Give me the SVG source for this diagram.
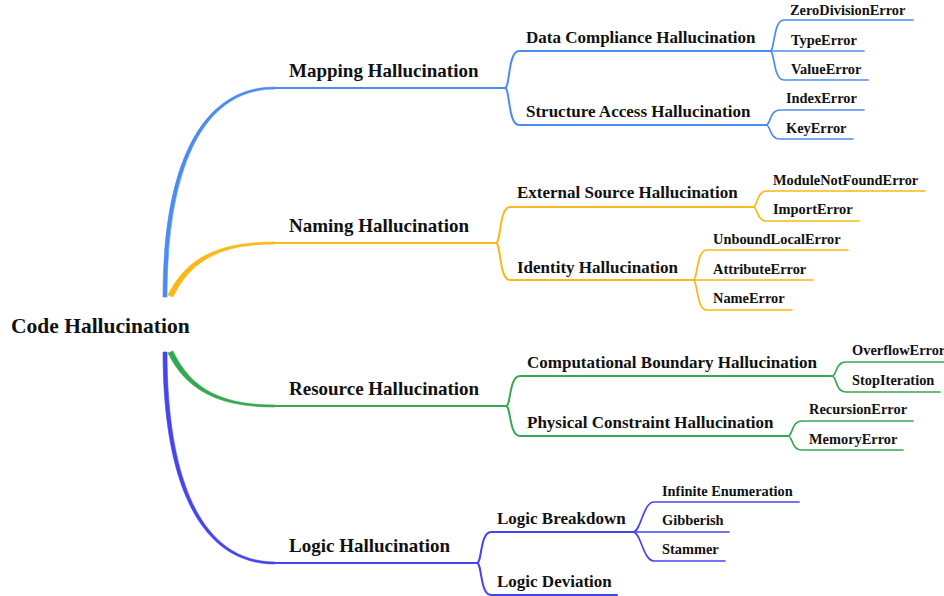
<svg xmlns="http://www.w3.org/2000/svg" width="944" height="596" viewBox="0 0 944 596">
<style>
text{font-family:"Liberation Serif","Times New Roman",serif;font-weight:bold;fill:#111}
.root{font-size:21.5px}
.l1{font-size:19px}
.l2{font-size:17px}
.l3{font-size:14.4px}
.ln{fill:none;stroke-linecap:round}
.w2{stroke-width:2}
.w3{stroke-width:1.7}
.blue{stroke:#4a8cf0}
.yel{stroke:#f9b916}
.grn{stroke:#35a852}
.pur{stroke:#4545f0}
.fblue{fill:#4a8cf0;stroke:#4a8cf0;stroke-width:0.6}
.fyel{fill:#f9b916;stroke:#f9b916;stroke-width:0.6}
.fgrn{fill:#35a852;stroke:#35a852;stroke-width:0.6}
.fpur{fill:#4545f0;stroke:#4545f0;stroke-width:0.6}
</style>
<rect width="944" height="596" fill="#ffffff"/>
<g id="connectors">
  <!-- main branches -->
  <path class="fblue" d="M163,297 C163,169 199,87 275,87 L275,89 C201,89 167,171 167,297 Z"/>
  <path class="ln w2 blue" d="M275,88 L505,88"/>
  <path class="fyel" d="M168,295 C188,254 224,242 275,242 L275,244 C226,244 192,257 173,297 Z"/>
  <path class="ln w2 yel" d="M275,243 L496,243"/>
  <path class="fgrn" d="M168,353 C188,394 224,407 275,407 L275,405 C226,405 192,392 173,351 Z"/>
  <path class="ln w2 grn" d="M275,406 L506,406"/>
  <path class="fpur" d="M163,352 C163,481 199,564 275,564 L275,562 C201,562 167,479 167,352 Z"/>
  <path class="ln w2 pur" d="M275,563 L477,563"/>
  <!-- mapping -->
  <path class="ln w2 blue" d="M505,88 C510,88 508,51 519,51 L770,51"/>
  <path class="ln w2 blue" d="M505,88 C510,88 508,125 519,125 L766,125"/>
  <path class="ln w3 blue" d="M770,51 C775,51 773,20 784,20 L913,20"/>
  <path class="ln w3 blue" d="M770,51 L864,51"/>
  <path class="ln w3 blue" d="M770,51 C775,51 773,80 784,80 L868,80"/>
  <path class="ln w3 blue" d="M766,125 C771,125 769,110 780,110 L864,110"/>
  <path class="ln w3 blue" d="M766,125 C771,125 769,139 780,139 L853,139"/>
  <!-- naming -->
  <path class="ln w2 yel" d="M496,243 C501,243 499,207 510,207 L753,207"/>
  <path class="ln w2 yel" d="M496,243 C501,243 499,280 510,280 L693,280"/>
  <path class="ln w3 yel" d="M753,207 C758,207 756,191 767,191 L925,191"/>
  <path class="ln w3 yel" d="M753,207 C758,207 756,221 767,221 L859,221"/>
  <path class="ln w3 yel" d="M693,280 C698,280 696,250 707,250 L848,250"/>
  <path class="ln w3 yel" d="M693,280 L813,280"/>
  <path class="ln w3 yel" d="M693,280 C698,280 696,310 707,310 L792,310"/>
  <!-- resource -->
  <path class="ln w2 grn" d="M506,406 C511,406 509,376 520,376 L832,376"/>
  <path class="ln w2 grn" d="M506,406 C511,406 509,436 520,436 L788,436"/>
  <path class="ln w3 grn" d="M832,376 C837,376 835,362 846,362 L946,362"/>
  <path class="ln w3 grn" d="M832,376 C837,376 835,392 846,392 L940,392"/>
  <path class="ln w3 grn" d="M788,436 C793,436 791,421 802,421 L913,421"/>
  <path class="ln w3 grn" d="M788,436 C793,436 791,450 802,450 L903,450"/>
  <!-- logic -->
  <path class="ln w2 pur" d="M477,563 C482,563 480,532 491,532 L633,532"/>
  <path class="ln w2 pur" d="M477,563 C482,563 480,595 491,595 L617,595"/>
  <path class="ln w3 pur" d="M633,532 C641,532 643,502 654,502 L799,502"/>
  <path class="ln w3 pur" d="M633,532 L729,532"/>
  <path class="ln w3 pur" d="M633,532 C641,532 643,561 654,561 L725,561"/>
</g>
<g id="root"><text class="root" x="11" y="333">Code Hallucination</text></g>
<g id="mapping"><text class="l1" x="289" y="77">Mapping Hallucination</text></g>
<g id="naming"><text class="l1" x="289" y="232">Naming Hallucination</text></g>
<g id="resource"><text class="l1" x="289" y="395">Resource Hallucination</text></g>
<g id="logic"><text class="l1" x="289" y="552">Logic Hallucination</text></g>
<g id="data-compliance"><text class="l2" x="526" y="43">Data Compliance Hallucination</text></g>
<g id="structure-access"><text class="l2" x="526" y="117">Structure Access Hallucination</text></g>
<g id="external-source"><text class="l2" x="517" y="198">External Source Hallucination</text></g>
<g id="identity"><text class="l2" x="517" y="273">Identity Hallucination</text></g>
<g id="computational-boundary"><text class="l2" x="527" y="368">Computational Boundary Hallucination</text></g>
<g id="physical-constraint"><text class="l2" x="527" y="428">Physical Constraint Hallucination</text></g>
<g id="logic-breakdown"><text class="l2" x="497" y="524">Logic Breakdown</text></g>
<g id="logic-deviation"><text class="l2" x="497" y="587">Logic Deviation</text></g>
<g id="zerodivisionerror"><text class="l3" x="790" y="15">ZeroDivisionError</text></g>
<g id="typeerror"><text class="l3" x="791" y="45">TypeError</text></g>
<g id="valueerror"><text class="l3" x="791" y="74">ValueError</text></g>
<g id="indexerror"><text class="l3" x="786" y="103">IndexError</text></g>
<g id="keyerror"><text class="l3" x="786" y="133">KeyError</text></g>
<g id="modulenotfounderror"><text class="l3" x="773" y="185">ModuleNotFoundError</text></g>
<g id="importerror"><text class="l3" x="773" y="214">ImportError</text></g>
<g id="unboundlocalerror"><text class="l3" x="713" y="244">UnboundLocalError</text></g>
<g id="attributeerror"><text class="l3" x="713" y="274">AttributeError</text></g>
<g id="nameerror"><text class="l3" x="713" y="303">NameError</text></g>
<g id="overflowerror"><text class="l3" x="852" y="355">OverflowError</text></g>
<g id="stopiteration"><text class="l3" x="852" y="385">StopIteration</text></g>
<g id="recursionerror"><text class="l3" x="809" y="414">RecursionError</text></g>
<g id="memoryerror"><text class="l3" x="809" y="444">MemoryError</text></g>
<g id="infinite-enumeration"><text class="l3" x="662" y="496">Infinite Enumeration</text></g>
<g id="gibberish"><text class="l3" x="662" y="525">Gibberish</text></g>
<g id="stammer"><text class="l3" x="662" y="554">Stammer</text></g>
</svg>
